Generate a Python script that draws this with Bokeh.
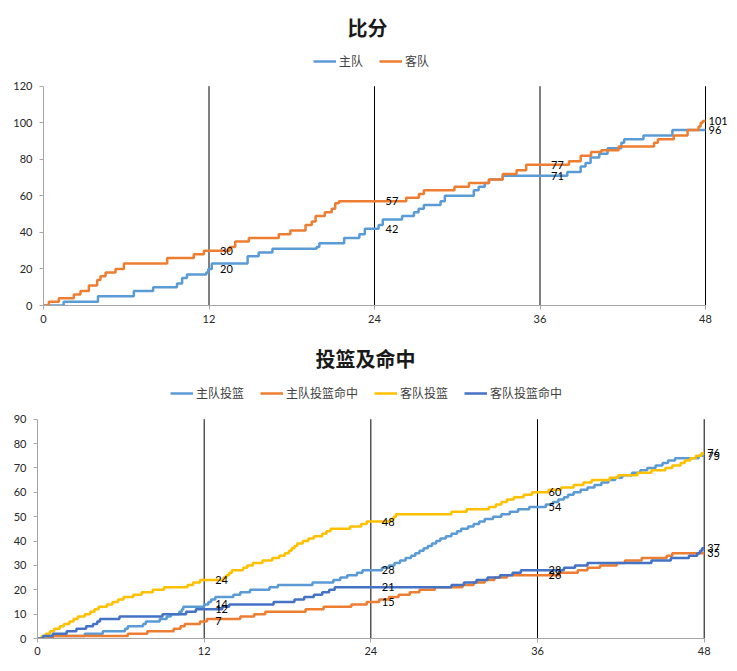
from bokeh.plotting import figure
from bokeh.models import (Label, LabelSet, Legend, LegendItem,
                          ColumnDataSource, FixedTicker, Range1d)
from bokeh.core.properties import value
from bokeh.layouts import column, row
from bokeh.embed import file_html
from bokeh.resources import INLINE

# ---------------- data ----------------
quarters = [12, 24, 36, 48]

# 比分 (score) : change times (minute) and cumulative score
home_score_t = [1.46, 3.95, 6.55, 7.95, 9.68, 10.05, 10.4, 11.8, 11.95, 12.2, 14.8, 15.6, 16.6,
                19.8, 20.0, 21.8, 22.9, 23.3, 24.3, 24.6, 26.0, 26.86, 27.2, 27.58, 28.79,
                29.1, 31.2, 31.55, 32.0, 32.3, 33.3, 37.98, 38.95, 39.3, 39.67, 40.3, 40.9,
                41.9, 42.1, 43.5, 45.6]
home_score_v = [2, 5, 8, 10, 12, 15, 17, 18, 20, 23, 27, 29, 31,
                32, 34, 37, 39, 42, 44, 47, 49, 51, 53, 55, 57,
                60, 63, 65, 67, 69, 71, 73, 76, 78, 81, 83, 86,
                89, 91, 93, 96]
away_score_t = [0.39, 1.11, 2.2, 2.68, 3.29, 3.89, 4.13, 4.5, 5.22, 5.83, 8.97, 10.9, 11.63,
                13.5, 13.9, 14.89, 17.06, 17.9, 19.0, 19.45, 19.73, 20.4, 20.9, 21.15, 21.42,
                26.3, 27.22, 27.58, 29.8, 30.85, 32.3, 33.3, 34.3, 35.0, 38.1, 38.95, 39.7,
                40.45, 41.7, 44.27, 44.55, 45.7, 46.7, 47.5, 47.65, 47.8]
away_score_v = [2, 4, 6, 8, 11, 14, 16, 18, 20, 23, 26, 28, 30,
                32, 35, 37, 39, 41, 44, 46, 49, 51, 53, 56, 57,
                59, 61, 63, 65, 67, 69, 72, 74, 77, 79, 82, 84,
                85, 87, 89, 91, 93, 96, 98, 100, 101]

# 投篮及命中 (shots and makes)
home_att_t = [1.0, 3.4, 4.7, 6.3, 6.5, 7.6, 7.8, 8.8, 9.3, 9.6, 10.2, 10.4, 10.5, 12.0,
              12.3, 12.5, 12.8, 14.1, 14.6, 15.3, 16.7, 17.3, 19.8, 21.3, 21.8, 22.3, 23.0, 23.4,
              24.8, 25.3, 25.7, 26.1, 26.5, 26.9, 27.2, 27.5, 27.8, 28.1, 28.4, 28.7, 29.0,
              29.4, 29.8, 30.2, 30.5, 31.0, 31.4, 31.8, 32.2, 32.8, 33.4, 34.0, 34.6, 35.4,
              36.6, 37.1, 37.5, 37.9, 38.2, 38.6, 39.1, 39.6, 40.1, 40.6, 41.1, 41.6, 42.1,
              42.8, 43.4, 43.9, 44.5, 45.0, 45.4, 45.9, 47.6]
home_att_v = list(range(1, 76))

home_made_t = [1.1, 6.5, 7.9, 9.8, 10.3, 10.6, 11.7, 12.2, 14.6, 15.6, 16.4, 19.3, 20.6,
               22.6, 23.7, 24.6, 25.3, 26.0, 26.8, 27.5, 28.6, 30.6, 31.4, 32.2, 32.9, 33.8,
               37.6, 38.9, 39.6, 40.5, 41.7, 42.3, 43.5, 45.3, 45.7]
home_made_v = list(range(1, 36))

away_att_t = [0.3, 0.6, 0.9, 1.2, 1.6, 1.9, 2.3, 2.6, 2.9, 3.4, 3.8, 4.1, 4.4, 5.0, 5.4,
              5.8, 6.2, 6.9, 7.5, 8.3, 9.1, 10.8, 11.2, 11.7, 13.4, 13.6, 13.8, 14.0, 14.8,
              15.1, 15.5, 16.2, 16.9, 17.4, 17.8, 18.1, 18.3, 18.5, 18.7, 19.1, 19.5, 19.9,
              20.5, 20.8, 21.1, 22.5, 23.3, 23.7, 25.5, 25.65, 25.8, 29.8, 30.9, 32.5, 33.0,
              33.4, 33.8, 34.3, 35.0, 35.6, 36.8, 37.7, 38.6, 39.3, 39.9, 41.2, 41.8, 43.2,
              44.2, 45.2, 45.7, 46.3, 46.6, 47.0, 47.4, 47.8]
away_att_v = list(range(1, 77))

away_made_t = [0.4, 1.1, 2.1, 2.8, 3.5, 4.0, 4.3, 4.5, 5.9, 9.0, 10.7, 11.4, 13.3, 13.8,
               17.0, 18.5, 19.2, 19.9, 20.5, 21.0, 21.4, 29.8, 30.7, 31.6, 32.4, 33.3, 34.2,
               34.8, 37.9, 38.7, 39.6, 44.2, 45.6, 46.9, 47.5, 47.7, 47.85]
away_made_v = list(range(1, 38))

score_names = ["主队", "客队"]
shot_names = ["主队投篮", "主队投篮命中", "客队投篮", "客队投篮命中"]

BLUE = "#5B9BD5"
ORANGE = "#ED7D31"
YELLOW = "#FFC000"
DBLUE = "#4472C4"

NUM_FONT = "Lato"
CJK_FONT = "Noto Sans CJK SC"
TXT = "#404040"
AX = "#A6A6A6"


def value_at(ts, vs, q):
    v = 0
    for t, s in zip(ts, vs):
        if t <= q:
            v = s
    return v


def make_fig(width, height, left, bottom, px_per_min, px_per_unit, ymax, ystep, x_standoff):
    frame_w = width - left
    frame_h = height - bottom
    p = figure(width=width, height=height,
               x_range=Range1d(0, frame_w / px_per_min),
               y_range=Range1d(0, frame_h / px_per_unit),
               output_backend="svg", toolbar_location=None,
               min_border_left=left, min_border_right=0,
               min_border_top=0, min_border_bottom=bottom)
    p.title.visible = False
    p.outline_line_color = None
    p.xgrid.visible = False
    p.ygrid.visible = False
    p.xaxis.ticker = FixedTicker(ticks=[0] + quarters)
    p.yaxis.ticker = FixedTicker(ticks=list(range(0, ymax + 1, ystep)))
    p.xaxis.bounds = (0, 48)
    p.yaxis.bounds = (0, ymax)
    for ax in (p.xaxis[0], p.yaxis[0]):
        ax.axis_line_color = AX
        ax.major_tick_line_color = AX
        ax.major_tick_out = 4
        ax.major_tick_in = 0
        ax.minor_tick_line_color = None
        ax.major_label_text_font = NUM_FONT
        ax.major_label_text_font_size = "11px"
        ax.major_label_text_color = "#262626"
    p.yaxis.major_label_standoff = 7
    p.xaxis.major_label_standoff = x_standoff
    p.segment(x0=quarters, y0=[0] * len(quarters), x1=quarters, y1=[ymax] * len(quarters),
              line_color="black", line_width=1)
    return p


def add_series(p, ts, vs, color):
    xs = [0] + list(ts) + [48]
    ys = [0] + list(vs) + [vs[-1]]
    return p.step(xs, ys, mode="after", line_color=color, line_width=2.5)


def add_labels(p, series):
    xs, ys, texts, offs = [], [], [], []
    for ts, vs in series:
        for q in quarters:
            v = value_at(ts, vs, q)
            xs.append(q)
            ys.append(v)
            texts.append(str(v))
            offs.append(3 if q == 48 else 11)
    src = ColumnDataSource(dict(x=xs, y=ys, text=texts, off=offs))
    p.add_layout(LabelSet(x="x", y="y", text="text", source=src, x_offset="off",
                          text_font=value(NUM_FONT), text_font_size="11px",
                          text_color="black", text_baseline="middle", text_align="left"))


def add_title(p, text, x, y):
    p.add_layout(Label(x=x, y=y, x_units="screen", y_units="screen", text=text,
                       text_font=CJK_FONT, text_font_size="20px", text_font_style="bold",
                       text_color="#1a1a1a", text_align="center", text_baseline="middle"))


def add_legend(p, items, x, y):
    lg = Legend(items=items, orientation="horizontal", location=(x, y),
                label_text_font=CJK_FONT, label_text_font_size="12px",
                label_text_color=TXT, glyph_width=23, glyph_height=16, label_height=16,
                label_standoff=3, spacing=16, padding=0, margin=0,
                border_line_color=None, background_fill_alpha=0)
    p.add_layout(lg)


# ---------------- chart 1: 比分 ----------------
p1 = make_fig(735, 341, 43, 36, 662 / 48, 219.3 / 120, 120, 20, 5)
r_home = add_series(p1, home_score_t, home_score_v, BLUE)
r_away = add_series(p1, away_score_t, away_score_v, ORANGE)
add_labels(p1, [(home_score_t, home_score_v), (away_score_t, away_score_v)])
add_title(p1, "比分", 324, 278)
add_legend(p1, [LegendItem(label=score_names[0], renderers=[r_home]),
                LegendItem(label=score_names[1], renderers=[r_away])], 270, 236)

# ---------------- chart 2: 投篮及命中 ----------------
p2 = make_fig(735, 328, 37, 31, 666.7 / 48, 219.3 / 90, 90, 10, 4)
r1 = add_series(p2, home_att_t, home_att_v, BLUE)
r2 = add_series(p2, home_made_t, home_made_v, ORANGE)
r3 = add_series(p2, away_att_t, away_att_v, YELLOW)
r4 = add_series(p2, away_made_t, away_made_v, DBLUE)
add_labels(p2, [(home_att_t, home_att_v), (home_made_t, home_made_v),
                (away_att_t, away_att_v), (away_made_t, away_made_v)])
add_title(p2, "投篮及命中", 328, 280)
add_legend(p2, [LegendItem(label=n, renderers=[r]) for n, r in zip(shot_names, [r1, r2, r3, r4])],
           133, 237)

layout = column(row(p1), row(p2))
open("out.html", "w").write(file_html(layout, INLINE))
